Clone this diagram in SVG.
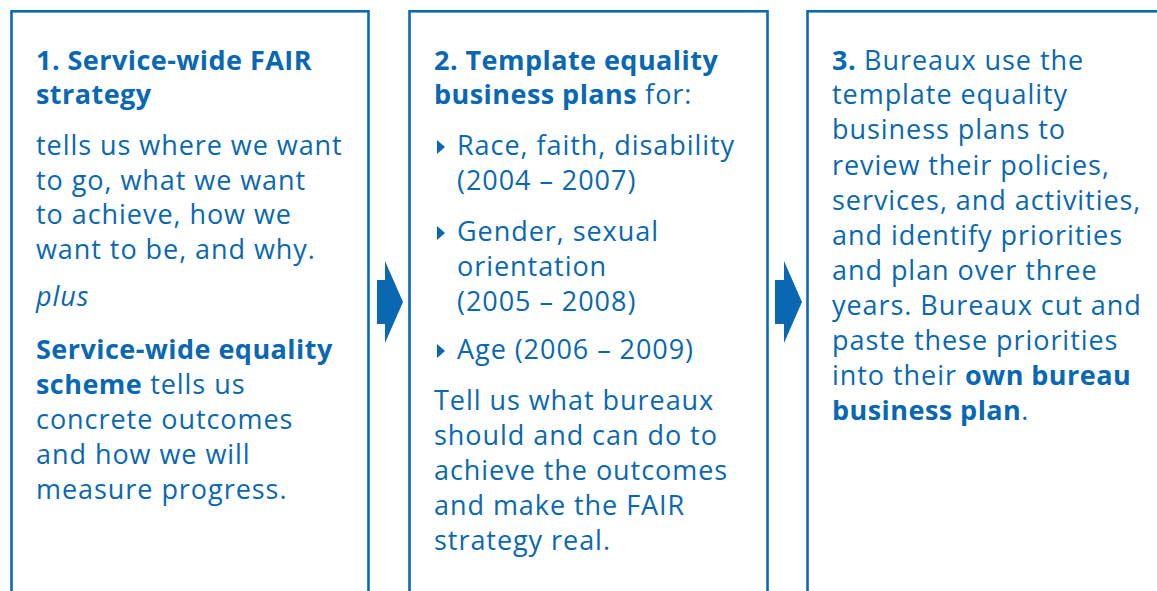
<svg xmlns="http://www.w3.org/2000/svg" width="1157" height="591" viewBox="0 0 1157 591">
  <style>
    .box { fill: #ffffff; stroke: #0a6ab4; stroke-width: 2.6; }
    .t { font-family: "Open Sans", "Noto Sans", "Liberation Sans", sans-serif; font-size: 27px; letter-spacing: 0.95px; fill: #0a68b2; }
    .b { font-weight: bold; letter-spacing: 0.45px; }
    .i { font-style: italic; }
    .arrow { fill: #0a68b2; }
    .bullet { fill: #0a68b2; }
  </style>
  <rect width="1157" height="591" fill="#ffffff"/>

  <!-- Step 1 -->
  <g id="step1">
    <rect class="box" x="11.5" y="11.3" width="357" height="600"/>
    <text class="t b" x="36" y="70">1. Service-wide FAIR</text>
    <text class="t b" x="36" y="104">strategy</text>
    <text class="t" x="36" y="155">tells us where we want</text>
    <text class="t" x="36" y="189.5">to go, what we want</text>
    <text class="t" x="36" y="224">to achieve, how we</text>
    <text class="t" x="36" y="258.5">want to be, and why.</text>
    <text class="t i" x="36" y="306">plus</text>
    <text class="t" x="36" y="359"><tspan class="b">Service-wide equality</tspan></text>
    <text class="t" x="36" y="394"><tspan class="b">scheme</tspan> tells us</text>
    <text class="t" x="36" y="429">concrete outcomes</text>
    <text class="t" x="36" y="464">and how we will</text>
    <text class="t" x="36" y="499">measure progress.</text>
  </g>

  <!-- Step 2 -->
  <g id="step2">
    <rect class="box" x="409.5" y="11.3" width="358" height="600"/>
    <text class="t" x="434" y="70"><tspan class="b">2. Template equality</tspan></text>
    <text class="t" x="434" y="104"><tspan class="b">business plans</tspan> for:</text>
    <polygon class="bullet" points="437,140 445,147 437,154"/>
    <text class="t" x="457" y="155">Race, faith, disability</text>
    <text class="t" x="457" y="190">(2004 – 2007)</text>
    <polygon class="bullet" points="437,226 445,233 437,240"/>
    <text class="t" x="457" y="241">Gender, sexual</text>
    <text class="t" x="457" y="276">orientation</text>
    <text class="t" x="457" y="311">(2005 – 2008)</text>
    <polygon class="bullet" points="437,344 445,351 437,358"/>
    <text class="t" x="457" y="359">Age (2006 – 2009)</text>
    <text class="t" x="434" y="410">Tell us what bureaux</text>
    <text class="t" x="434" y="445">should and can do to</text>
    <text class="t" x="434" y="480">achieve the outcomes</text>
    <text class="t" x="434" y="515">and make the FAIR</text>
    <text class="t" x="434" y="550">strategy real.</text>
  </g>

  <!-- Step 3 -->
  <g id="step3">
    <rect class="box" x="807.5" y="11.3" width="400" height="600"/>
    <text class="t" x="832" y="70"><tspan class="b">3.</tspan> Bureaux use the</text>
    <text class="t" x="832" y="104">template equality</text>
    <text class="t" x="832" y="139">business plans to</text>
    <text class="t" x="832" y="175">review their policies,</text>
    <text class="t" x="832" y="210">services, and activities,</text>
    <text class="t" x="832" y="245">and identify priorities</text>
    <text class="t" x="832" y="280">and plan over three</text>
    <text class="t" x="832" y="315">years. Bureaux cut and</text>
    <text class="t" x="832" y="350">paste these priorities</text>
    <text class="t" x="832" y="385">into their <tspan class="b">own bureau</tspan></text>
    <text class="t" x="832" y="420"><tspan class="b">business plan</tspan>.</text>
  </g>

  <!-- Flow arrows between steps -->
  <g id="connectors">
    <polygon class="arrow" points="377,280 385,280 385,261 403,302 385,343 385,324 377,324"/>
    <polygon class="arrow" points="775,280 784,280 784,261 802,302 784,343 784,324 775,324"/>
  </g>
</svg>
